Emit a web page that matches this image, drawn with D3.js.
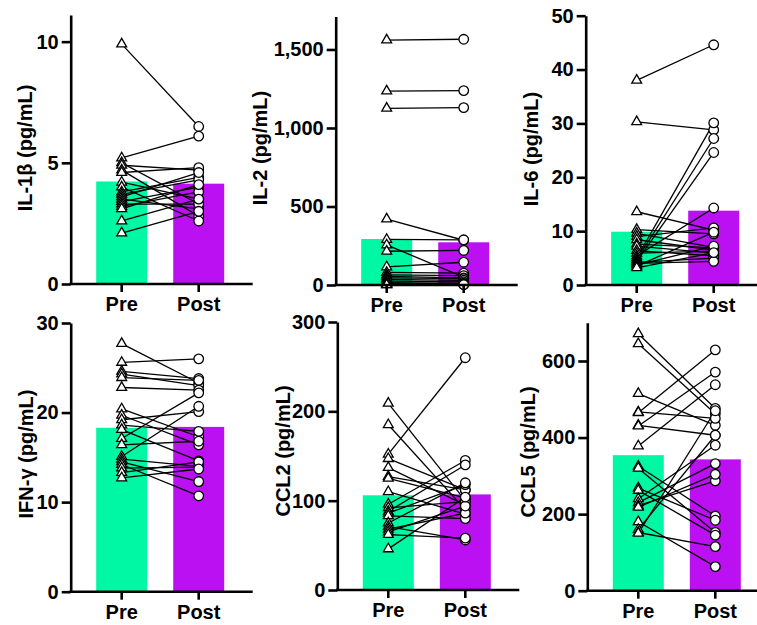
<!DOCTYPE html>
<html>
<head>
<meta charset="utf-8">
<script src="https://cdn.jsdelivr.net/npm/d3@7"></script>
<style>
  html, body { margin: 0; padding: 0; background: #fff; }
  svg text { font-family: "Liberation Sans", Arial, sans-serif; font-weight: bold; }
</style>
</head>
<body>
<div id="ground"></div>
<script>
document.addEventListener("DOMContentLoaded", function () {

    const groups = ["Pre", "Post"];
    const barColors = ["#00f7a3", "#bb10f2"];

    // IL-1beta
    const il1bPre  = [9.9, 5.2, 5.0, 4.9, 4.7, 4.6, 4.2, 4.0, 3.8, 3.7, 3.6, 3.5, 3.4, 3.3, 3.2, 3.1, 2.6, 2.1];
    const il1bPost = [6.5, 6.1, 3.3, 4.7, 2.8, 4.8, 3.5, 2.6, 4.4, 4.3, 4.6, 3.1, 4.0, 3.3, 3.8, 4.1, 3.5, 3.0];
    const il1bMean = [4.23, 4.14];
    const il1bTicks = [0, 5, 10];

    // IL-2
    const il2Pre  = [1560, 1235, 1125, 420, 290, 255, 215, 115, 80, 65, 55, 45, 35, 25, 15, 10, 5, 2, 1];
    const il2Post = [1565, 1238, 1130, 285, 288, 50, 220, 145, 75, 60, 45, 40, 30, 20, 10, 10, 5, 3, 2];
    const il2Mean = [293, 272];
    const il2Ticks = [0, 500, 1000, 1500];

    // IL-6
    const il6Pre  = [38.0, 30.3, 13.6, 10.3, 9.6, 9.0, 8.4, 7.6, 7.2, 6.4, 5.9, 5.4, 5.0, 4.7, 4.4, 4.2, 4.0, 3.7, 3.5, 3.2];
    const il6Post = [44.6, 28.8, 10.2, 9.5, 7.0, 10.6, 6.5, 6.9, 5.9, 5.4, 6.3, 14.3, 30.1, 27.2, 24.6, 5.0, 4.4, 7.2, 9.8, 6.0];
    const il6Mean = [9.9, 13.8];
    const il6Ticks = [0, 10, 20, 30, 40, 50];

    // IFN-gamma
    const ifngPre  = [27.7, 25.6, 24.6, 24.3, 23.9, 22.8, 20.4, 19.7, 19.2, 18.6, 18.1, 17.1, 16.4, 15.1, 14.8, 14.5, 14.2, 13.8, 13.3, 12.7];
    const ifngPost = [23.3, 26.0, 23.8, 23.0, 23.6, 22.5, 17.3, 16.4, 20.1, 17.9, 14.6, 22.2, 16.8, 20.7, 14.0, 12.3, 10.7, 13.9, 14.5, 13.7];
    const ifngMean = [18.3, 18.4];
    const ifngTicks = [0, 10, 20, 30];

    // CCL2
    const ccl2Pre  = [209, 185, 152, 147, 137, 127, 125, 110, 96, 92, 88, 86, 83, 75, 71, 68, 65, 62, 46];
    const ccl2Post = [100, 90, 260, 112, 95, 112, 103, 85, 145, 99, 140, 118, 80, 120, 56, 86, 94, 58, 104];
    const ccl2Mean = [106, 107];
    const ccl2Ticks = [0, 100, 200, 300];

    // CCL5
    const ccl5Pre  = [671, 645, 515, 467, 465, 432, 430, 378, 325, 320, 268, 262, 240, 230, 222, 218, 180, 160, 152, 150];
    const ccl5Post = [476, 462, 432, 450, 629, 406, 571, 538, 195, 152, 184, 145, 380, 332, 287, 304, 63, 406, 115, 470];
    const ccl5Mean = [354, 343];
    const ccl5Ticks = [0, 200, 400, 600];

    const panels = [
        {title: "IL-1β (pg/mL)", pre: il1bPre, post: il1bPost, mean: il1bMean, ticks: il1bTicks, max: 11.1,
            ax: 70.7, base: 284, top: 15, titleX: 32, titleY: 148, fmt: d3.format("d")},
        {title: "IL-2 (pg/mL)", pre: il2Pre, post: il2Post, mean: il2Mean, ticks: il2Ticks, max: 1710,
            ax: 335.7, base: 285, top: 16.5, titleX: 266.5, titleY: 148, fmt: d3.format(",")},
        {title: "IL-6 (pg/mL)", pre: il6Pre, post: il6Post, mean: il6Mean, ticks: il6Ticks, max: 50,
            ax: 585.7, base: 285, top: 15.7, titleX: 538, titleY: 149, fmt: d3.format("d")},
        {title: "IFN-γ (pg/mL)", pre: ifngPre, post: ifngPost, mean: ifngMean, ticks: ifngTicks, max: 30,
            ax: 70.7, base: 591.7, top: 323, titleX: 33, titleY: 454, fmt: d3.format("d")},
        {title: "CCL2 (pg/mL)", pre: ccl2Pre, post: ccl2Post, mean: ccl2Mean, ticks: ccl2Ticks, max: 300,
            ax: 337.3, base: 590, top: 322, titleX: 290, titleY: 451, fmt: d3.format("d")},
        {title: "CCL5 (pg/mL)", pre: ccl5Pre, post: ccl5Post, mean: ccl5Mean, ticks: ccl5Ticks, max: 700,
            ax: 587.3, base: 590.7, top: 322.7, titleX: 535, titleY: 452, fmt: d3.format("d")}
    ];

    let svg = d3.select("#ground")
        .append("svg")
        .attr("width", 757)
        .attr("height", 625);

    svg.append("rect").attr("width", 757).attr("height", 625).attr("fill", "#fff");

    const tri = d3.symbol().type(d3.symbolTriangle).size(42)();
    const circ = d3.symbol().type(d3.symbolCircle).size(72)();

    let drawPanel = function (p) {

        let y = d3.scaleLinear().domain([0, p.max]).range([p.base, p.top]);
        let x = d3.scaleBand().domain(groups)
            .range([p.ax + 25.5, p.ax + 153.5])
            .paddingInner(0.338);
        let cx = d => x(d) + x.bandwidth() / 2;

        let gr = svg.append("g");

        // bars (group means)
        gr.selectAll("rect.bar")
            .data(groups)
            .join("rect")
            .attr("class", "bar")
            .attr("x", d => x(d))
            .attr("width", x.bandwidth())
            .attr("y", (d, i) => y(p.mean[i]))
            .attr("height", (d, i) => y(0) - y(p.mean[i]))
            .attr("fill", (d, i) => barColors[i]);

        // paired lines
        let pairs = p.pre.map((v, i) => [v, p.post[i]]);
        gr.selectAll("line.pair")
            .data(pairs)
            .join("line")
            .attr("class", "pair")
            .attr("x1", cx("Pre"))
            .attr("x2", cx("Post"))
            .attr("y1", d => y(d[0]))
            .attr("y2", d => y(d[1]))
            .attr("stroke", "#000")
            .attr("stroke-width", 1.3);

        gr.selectAll("path.pre")
            .data(p.pre)
            .join("path")
            .attr("class", "pre")
            .attr("d", tri)
            .attr("transform", d => `translate(${cx("Pre")},${y(d)})`)
            .attr("fill", "#fff")
            .attr("stroke", "#000")
            .attr("stroke-width", 1.3);

        gr.selectAll("path.post")
            .data(p.post)
            .join("path")
            .attr("class", "post")
            .attr("d", circ)
            .attr("transform", d => `translate(${cx("Post")},${y(d)})`)
            .attr("fill", "#fff")
            .attr("stroke", "#000")
            .attr("stroke-width", 1.3);

        // y axis
        let yAx = gr.append("g")
            .attr("transform", `translate(${p.ax},0)`)
            .call(d3.axisLeft(y).tickValues(p.ticks).tickFormat(p.fmt)
                .tickSize(9).tickSizeOuter(0).tickPadding(3));
        yAx.select(".domain").attr("stroke-width", 2.6);
        yAx.selectAll(".tick line").attr("stroke-width", 2.6);
        yAx.selectAll(".tick text").style("font-size", "20px").attr("fill", "#000");

        // x axis
        gr.append("line")
            .attr("x1", p.ax - 1.3)
            .attr("x2", p.ax + 182)
            .attr("y1", y(0))
            .attr("y2", y(0))
            .attr("stroke", "#000")
            .attr("stroke-width", 2.6);

        let xAx = gr.append("g")
            .attr("transform", `translate(0,${y(0)})`)
            .call(d3.axisBottom(x).tickSize(8).tickPadding(5));
        xAx.select(".domain").remove();
        xAx.selectAll(".tick line").attr("stroke-width", 2.6);
        xAx.selectAll(".tick text").style("font-size", "20px").attr("fill", "#000");

        // title
        gr.append("text")
            .attr("transform", `translate(${p.titleX},${p.titleY}) rotate(-90)`)
            .attr("text-anchor", "middle")
            .style("font-size", "20px")
            .text(p.title);
    };

    panels.forEach(drawPanel);

});
</script>
</body>
</html>
